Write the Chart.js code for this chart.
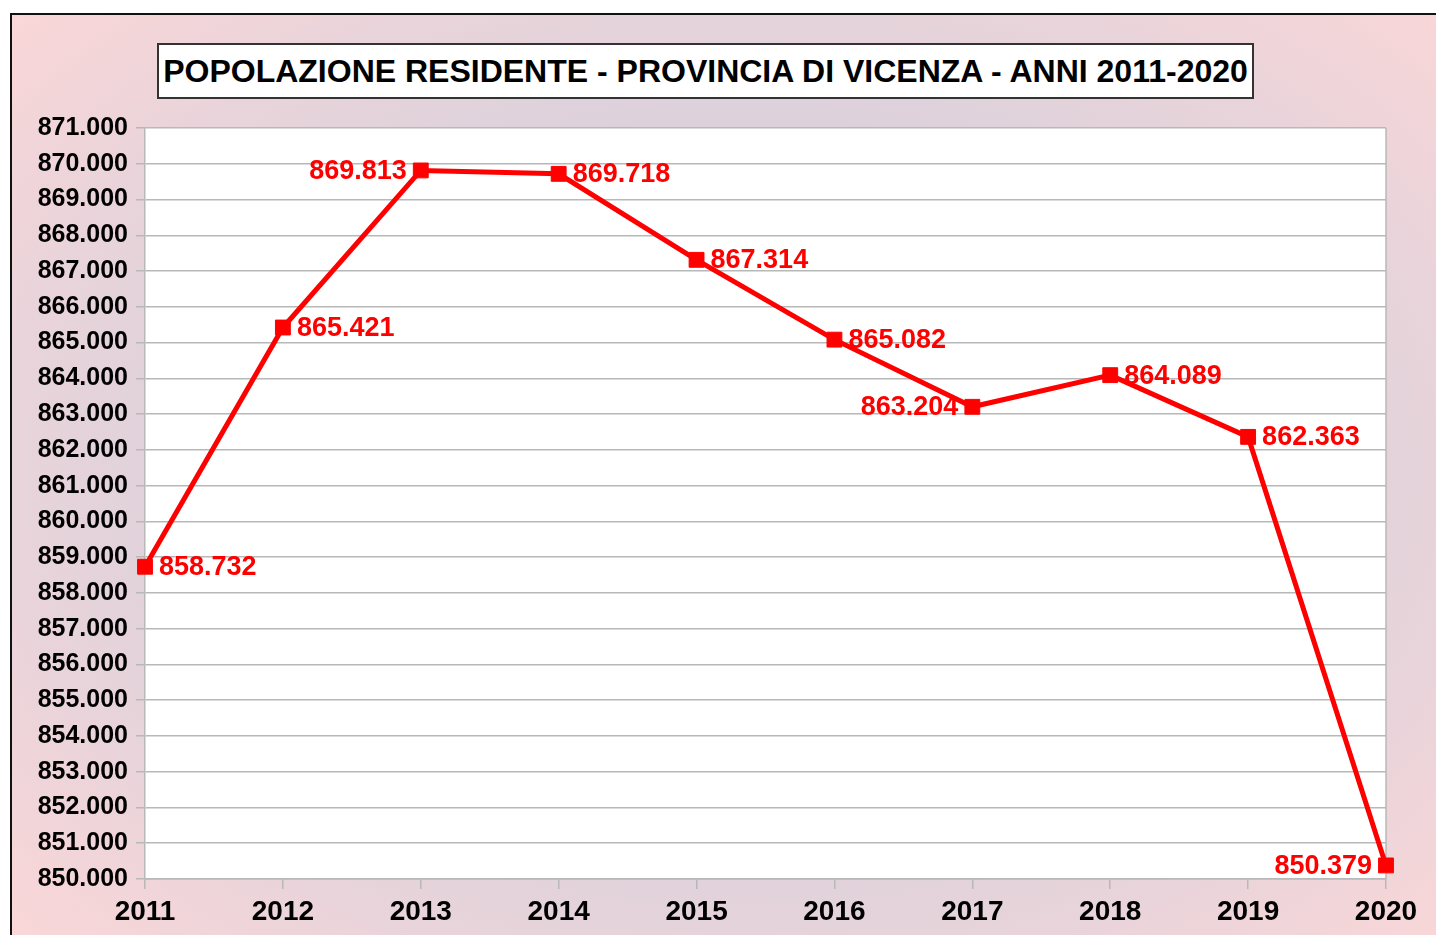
<!DOCTYPE html>
<html lang="it">
<head>
<meta charset="utf-8">
<title>Popolazione residente - Provincia di Vicenza</title>
<script src="https://cdn.jsdelivr.net/npm/chart.js@4.4.1/dist/chart.umd.min.js"></script>
<style>
  html, body { margin: 0; padding: 0; background: #fff; }
  body { width: 1436px; height: 935px; position: relative; overflow: hidden; }
  #frame {
    position: absolute; left: 10px; top: 13px; width: 1460px; height: 960px;
    border-left: 2px solid #111; border-top: 2px solid #111; box-sizing: border-box;
    background: radial-gradient(ellipse farthest-corner at 50% 48%, #cbcfe0 0%, #d6d0dc 40%, #ebd4da 75%, #fdd7d7 100%);
  }
  #chartBox { position: absolute; left: 0; top: 0; width: 1436px; height: 935px; }
  #titleBox {
    position: absolute; left: 157px; top: 43px; width: 1097px; height: 56px; box-sizing: border-box;
    border: 2px solid #333; background: #fff;
    font: bold 32px "Liberation Sans", Arial, sans-serif; color: #000;
    display: flex; align-items: center; justify-content: center; white-space: nowrap;
  }
</style>
</head>
<body>
<div id="frame"></div>
<div id="chartBox"><canvas id="popChart" width="1436" height="935"></canvas></div>
<div id="titleBox">POPOLAZIONE RESIDENTE - PROVINCIA DI VICENZA - ANNI 2011-2020</div>

<script>
'use strict';

// ── Data ─────────────────────────────────────
const ANNI = ['2011', '2012', '2013', '2014', '2015', '2016', '2017', '2018', '2019', '2020'];
const POPOLAZIONE = [858732, 865421, 869813, 869718, 867314, 865082, 863204, 864089, 862363, 850379];
const Y_MIN = 850000;
const Y_MAX = 871000;
const Y_STEP = 1000;

const FONT = '"Liberation Sans", Arial, sans-serif';
const RED = '#ff0000';
const GRID = '#b8b8b8';

// 850000 -> "850.000"
const fmt = n => String(Math.round(n)).replace(/\B(?=(\d{3})+(?!\d))/g, '.');

// ── Value labels next to the markers ─────────
const valueLabels = {
  id: 'valueLabels',
  afterDatasetsDraw(chart, args, opts) {
    const meta = chart.getDatasetMeta(0);
    const data = chart.data.datasets[0].data;
    const ctx = chart.ctx;
    ctx.save();
    ctx.font = `bold 27px ${FONT}`;
    ctx.fillStyle = RED;
    ctx.textBaseline = 'middle';
    meta.data.forEach((pt, i) => {
      const left = opts.leftOf.includes(i);
      ctx.textAlign = left ? 'right' : 'left';
      ctx.fillText(fmt(data[i]), pt.x + (left ? -opts.gap : opts.gap), pt.y + 1);
    });
    ctx.restore();
  }
};

// ── Right border of the plot area ────────────
const plotBorder = {
  id: 'plotBorder',
  beforeDatasetsDraw(chart) {
    const { ctx, chartArea: a } = chart;
    ctx.save();
    ctx.strokeStyle = GRID;
    ctx.lineWidth = 1.5;
    ctx.beginPath();
    ctx.moveTo(a.right, a.top);
    ctx.lineTo(a.right, a.bottom);
    ctx.stroke();
    ctx.restore();
  }
};

// ── White plot background ───────────────────
const plotBg = {
  id: 'plotBg',
  beforeDraw(chart) {
    const { ctx, chartArea: a } = chart;
    ctx.save();
    ctx.fillStyle = '#fff';
    ctx.fillRect(a.left, a.top, a.right - a.left, a.bottom - a.top);
    ctx.restore();
  }
};

const ctx = document.getElementById('popChart').getContext('2d');
new Chart(ctx, {
  type: 'line',
  data: {
    labels: ANNI,
    datasets: [{
      label: 'Popolazione residente',
      data: POPOLAZIONE,
      borderColor: RED,
      backgroundColor: RED,
      borderWidth: 5,
      tension: 0,
      pointStyle: 'rect',
      pointRadius: 10.5,
      pointBorderWidth: 1,
      pointBackgroundColor: RED,
      pointBorderColor: RED
    }]
  },
  options: {
    responsive: false,
    animation: false,
    devicePixelRatio: 1,
    layout: { padding: { left: 0, top: 128, right: 50, bottom: 0 } },
    plugins: {
      legend: { display: false },
      tooltip: { enabled: false },
      valueLabels: { leftOf: [2, 6, 9], gap: 14 }
    },
    scales: {
      x: {
        offset: false,
        afterFit: s => { s.height = 56; },
        grid: { drawOnChartArea: false, drawTicks: true, tickLength: 10, color: GRID, lineWidth: 1.5 },
        border: { display: true, color: GRID, width: 1.5 },
        ticks: {
          color: '#000', padding: 6, autoSkip: false, maxRotation: 0,
          font: { family: FONT, size: 28, weight: 'bold' }
        }
      },
      y: {
        min: Y_MIN,
        max: Y_MAX,
        afterFit: s => { s.width = 145; },
        grid: { color: GRID, lineWidth: 1.5, tickLength: 9 },
        border: { display: true, color: GRID, width: 1.5 },
        ticks: {
          stepSize: Y_STEP, autoSkip: false, color: '#000', padding: 8,
          font: { family: FONT, size: 25, weight: 'bold' },
          callback: v => fmt(v)
        }
      }
    }
  },
  plugins: [plotBg, plotBorder, valueLabels]
});
</script>
</body>
</html>
